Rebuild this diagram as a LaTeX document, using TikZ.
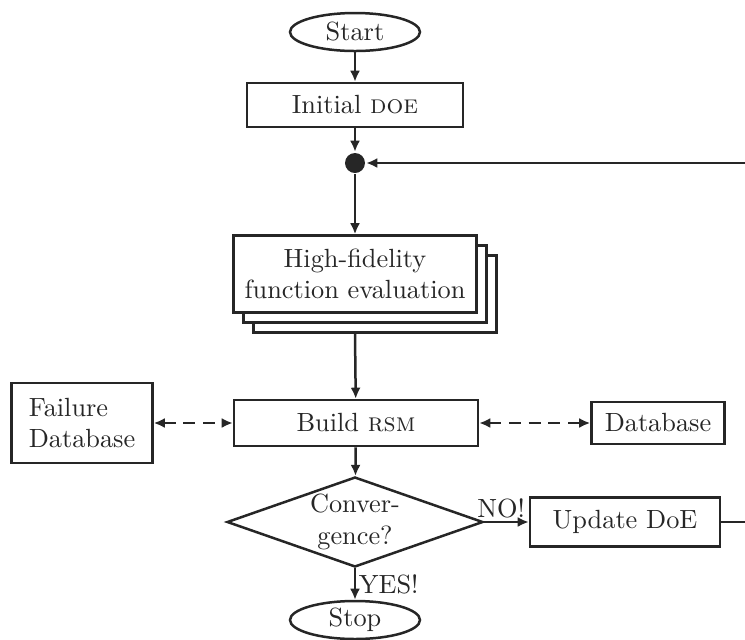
\documentclass[tikz,border=0pt]{standalone}
\usepackage{amsmath}
\usetikzlibrary{arrows, arrows.meta, shapes, shapes.geometric}

\begin{document}
\begin{tikzpicture}[x=0.38pt, y=-0.38pt, line width=0.95pt, >={Latex[length=4.2pt,width=3.8pt]}, color=black!85]
	\def\px{0.38pt}
	\tikzset{
		box/.style={draw, fill=white, align=center, inner sep=2pt},
		term/.style={draw, ellipse, inner sep=0pt, minimum width=130*\px, minimum height=38*\px},
		dlink/.style={<->, dash pattern=on 4.5pt off 3pt}
	}
	\clip (0,0) rectangle (745,639);
	
	\node[term] (start) at (355,32) {Start};
	\node[box, minimum width=216*\px, minimum height=44*\px] (doe) at (355,105) {Initial \textsc{doe}};
	\node[circle, fill, inner sep=0pt, minimum size=20*\px] (dot) at (355,163) {};
	
	% stacked evaluations
	\node[box, minimum width=243*\px, minimum height=77*\px] (hfeB) at (375,294) {};
	\node[box, minimum width=243*\px, minimum height=77*\px] (hfeA) at (365,284) {};
	\node[box, minimum width=243*\px, minimum height=77*\px] (hfe) at (355,274) {High-fidelity\\function evaluation};
	
	\node[box, minimum width=244*\px, minimum height=46*\px] (rsm) at (356,423) {Build \textsc{rsm}};
	\node[box, align=left, minimum width=141*\px, minimum height=80*\px] (fail) at (82,423) {Failure\\Database};
	\node[box, minimum width=133*\px, minimum height=42*\px] (db) at (658,423) {Database};
	
	\node[draw, diamond, aspect=2.85, inner sep=0pt, minimum width=256*\px, minimum height=90*\px, align=center] (conv) at (355,522) {Conver-\\gence?};
	\node[box, minimum width=190*\px, minimum height=49*\px] (upd) at (625,522) {Update DoE};
	\node[term] (stop) at (355,620) {Stop};
	\coordinate (back) at (770,163);
	
	\draw[->] (start) -- (doe);
	\draw[->] (doe) -- (dot);
	\draw[->] (dot) -- (hfe);
	\draw[->] (hfe |- hfeB.south) -- (rsm);
	\draw[dlink] (fail) -- (rsm);
	\draw[dlink] (rsm) -- (db);
	\draw[->] (rsm) -- (conv);
	\draw[->] (conv) -- node[pos=1, anchor=south east, inner sep=1pt] {NO!} (upd);
	\draw[->] (conv) -- node[right, inner sep=1pt] {YES!} (stop);
	\draw[->] (upd.east) -- (upd.east -| back) -- (back) -- (dot);
\end{tikzpicture}
\end{document}
